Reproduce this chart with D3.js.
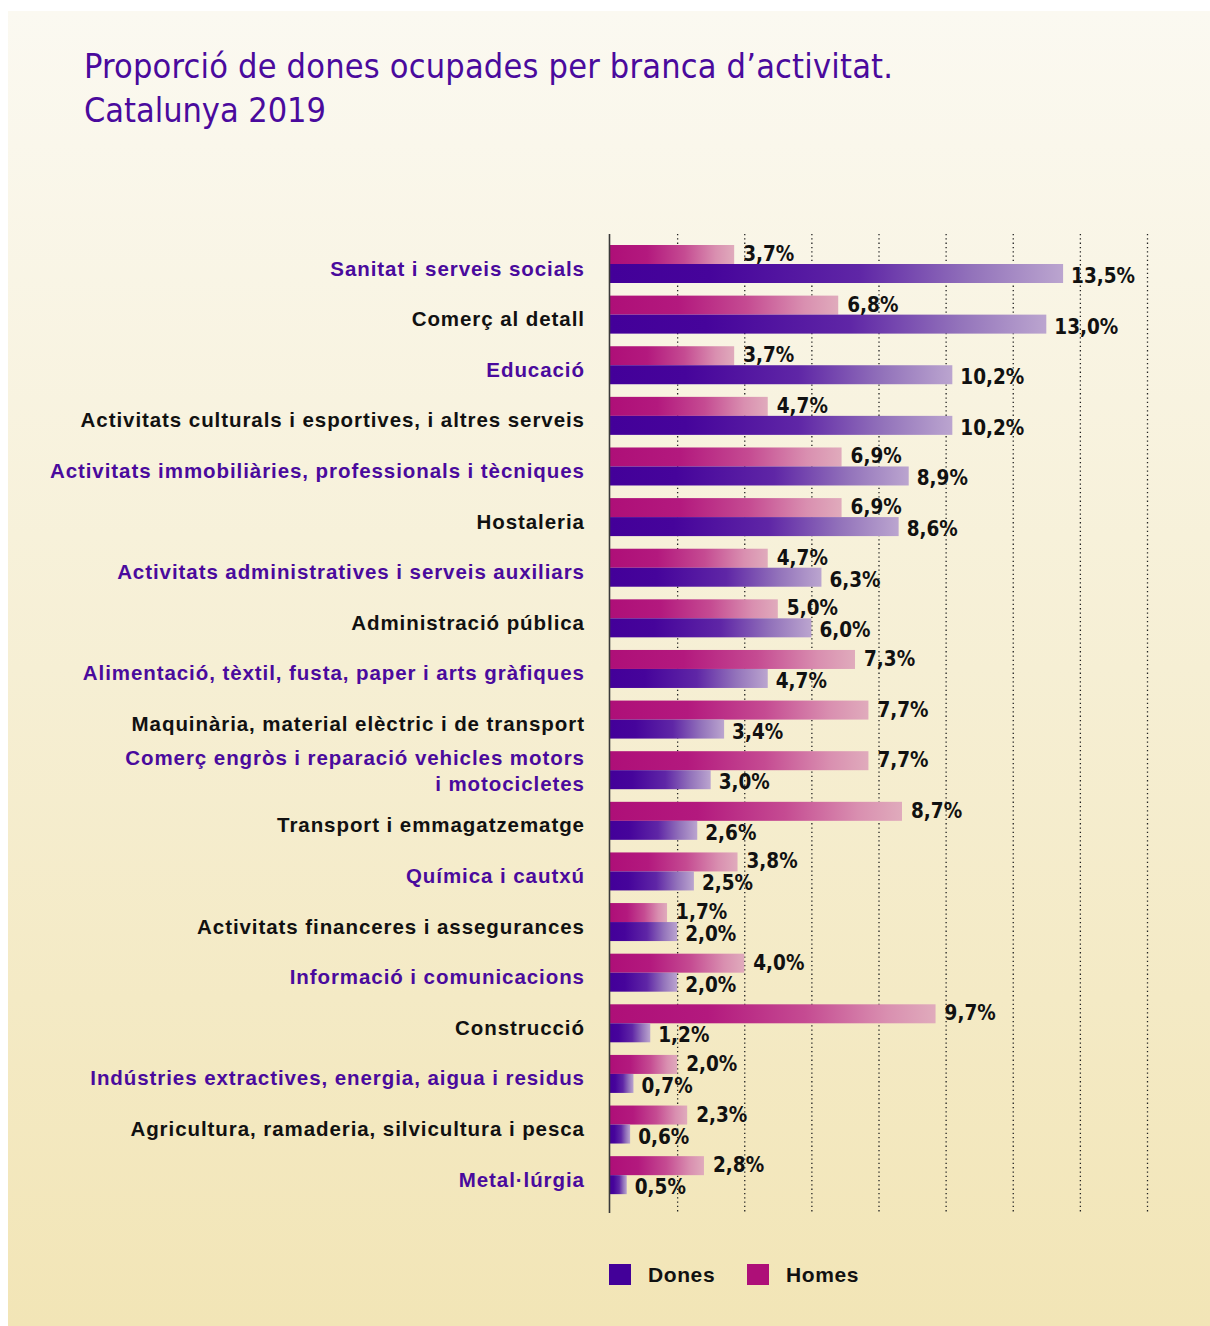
<!DOCTYPE html>
<html>
<head>
<meta charset="utf-8">
<script src="https://cdn.jsdelivr.net/npm/d3@7"></script>
<style>
html,body{margin:0;padding:0;background:#fff;overflow:hidden;}
svg{display:block;}
</style>
</head>
<body>
<script>
const categories = [
  ["Sanitat i serveis socials"],
  ["Comerç al detall"],
  ["Educació"],
  ["Activitats culturals i esportives, i altres serveis"],
  ["Activitats immobiliàries, professionals i tècniques"],
  ["Hostaleria"],
  ["Activitats administratives i serveis auxiliars"],
  ["Administració pública"],
  ["Alimentació, tèxtil, fusta, paper i arts gràfiques"],
  ["Maquinària, material elèctric i de transport"],
  ["Comerç engròs i reparació vehicles motors", "i motocicletes"],
  ["Transport i emmagatzematge"],
  ["Química i cautxú"],
  ["Activitats financeres i assegurances"],
  ["Informació i comunicacions"],
  ["Construcció"],
  ["Indústries extractives, energia, aigua i residus"],
  ["Agricultura, ramaderia, silvicultura i pesca"],
  ["Metal·lúrgia"]
];
const dones = [13.5, 13.0, 10.2, 10.2, 8.9, 8.6, 6.3, 6.0, 4.7, 3.4, 3.0, 2.6, 2.5, 2.0, 2.0, 1.2, 0.7, 0.6, 0.5];
const homes = [3.7, 6.8, 3.7, 4.7, 6.9, 6.9, 4.7, 5.0, 7.3, 7.7, 7.7, 8.7, 3.8, 1.7, 4.0, 9.7, 2.0, 2.3, 2.8];
const gridTicks = [2, 4, 6, 8, 10, 12, 14, 16];
const seriesNames = ["Dones", "Homes"];
const titleLines = ["Proporció de dones ocupades per branca d’activitat.", "Catalunya 2019"];

const W = 1210, H = 1326;
const svg = d3.select("body").append("svg").attr("width", W).attr("height", H);
const defs = svg.append("defs");

const bg = defs.append("linearGradient").attr("id", "bg").attr("x1", 0).attr("y1", 0).attr("x2", 0).attr("y2", 1);
bg.append("stop").attr("offset", 0).attr("stop-color", "#fbf9f1");
bg.append("stop").attr("offset", 0.5).attr("stop-color", "#f6efd4");
bg.append("stop").attr("offset", 1).attr("stop-color", "#f2e5b6");

const gD = defs.append("linearGradient").attr("id", "gD");
[[0, "#430099"], [0.22, "#46049b"], [0.55, "#5f26a6"], [0.8, "#9373bb"], [1, "#bba5cf"]]
  .forEach(s => gD.append("stop").attr("offset", s[0]).attr("stop-color", s[1]));
const gH = defs.append("linearGradient").attr("id", "gH");
[[0, "#ae0f78"], [0.3, "#b3197e"], [0.6, "#c54b92"], [0.85, "#d98fb0"], [1, "#e0abbc"]]
  .forEach(s => gH.append("stop").attr("offset", s[0]).attr("stop-color", s[1]));

svg.append("rect").attr("x", 8).attr("y", 11).attr("width", W - 8).attr("height", H - 11).attr("fill", "url(#bg)");

// Title
const condensed = "'Liberation Sans Narrow','DejaVu Sans Condensed','Roboto Condensed',sans-serif";
const title = svg.append("g");
const tW = [809, 242];
titleLines.forEach((t, i) => {
  title.append("text")
    .attr("x", 84).attr("y", 78 + i * 44)
    .attr("font-family", condensed).attr("font-size", 34)
    .attr("font-stretch", "condensed")
    .attr("fill", "#4a0a9d")
    .attr("textLength", tW[i]).attr("lengthAdjust", "spacing")
    .text(t);
});

// Scales
const x = d3.scaleLinear().domain([0, 16]).range([610, 1147]);
const y = d3.scaleBand().domain(d3.range(categories.length)).range([238, 238 + 50.62 * categories.length]);
const barH = 19, top0 = 7;

const gridTop = 234, gridBot = 1213;
const gridAxis = d3.axisTop(x).tickValues(gridTicks).tickSize(-(gridBot - gridTop)).tickFormat("");
const gg = svg.append("g").attr("transform", `translate(0,${gridTop})`).call(gridAxis);
gg.select(".domain").remove();
gg.selectAll(".tick line").attr("stroke", "#222").attr("stroke-width", 1.3).attr("stroke-dasharray", "1.3,3");

// Bars
const rows = svg.append("g");
categories.forEach((c, i) => {
  const yy = y(i) + top0;
  rows.append("rect").attr("x", x(0)).attr("y", yy).attr("width", x(homes[i]) - x(0)).attr("height", barH).attr("fill", "url(#gH)");
  rows.append("rect").attr("x", x(0)).attr("y", yy + barH).attr("width", x(dones[i]) - x(0)).attr("height", barH).attr("fill", "url(#gD)");
});

svg.append("line").attr("x1", 609.5).attr("x2", 609.5).attr("y1", gridTop).attr("y2", gridBot)
  .attr("stroke", "#3a3a3a").attr("stroke-width", 1.6);

// Value labels
const fmt = v => d3.format(".1f")(v).replace(".", ",") + "%";
const vl = svg.append("g").attr("font-family", condensed).attr("font-stretch", "condensed")
  .attr("font-weight", "bold").attr("font-size", 20.5).attr("fill", "#111");
categories.forEach((c, i) => {
  const yy = y(i) + top0;
  vl.append("text").attr("x", x(homes[i]) + 9).attr("y", yy + barH - 3).text(fmt(homes[i]));
  vl.append("text").attr("x", x(dones[i]) + 8).attr("y", yy + 2 * barH).text(fmt(dones[i]));
});

// Category labels
const cl = svg.append("g").attr("font-family", "'Liberation Sans',Arial,sans-serif")
  .attr("font-weight", "bold").attr("font-size", 20.5).attr("text-anchor", "end");
categories.forEach((c, i) => {
  const mid = y(i) + top0 + barH;
  const col = i % 2 === 0 ? "#4a0a9d" : "#111";
  if (c.length === 1) {
    cl.append("text").attr("x", 584).attr("y", mid + 11.5).attr("fill", col).text(c[0]);
  } else {
    c.forEach((line, k) => {
      cl.append("text").attr("x", 584).attr("y", mid - 5 + k * 26).attr("fill", col).text(line);
    });
  }
});
// match the reference's wide tracking: widest label spans ~535px
{
  const ref = cl.selectAll("text").filter((d, k, n) => n[k].textContent.startsWith("Activitats immobili")).node();
  const w = ref.getComputedTextLength();
  const ls = Math.max(0, (535 - w) / (ref.textContent.length));
  cl.attr("letter-spacing", ls);
  cl.selectAll("text").attr("dx", ls);
}

// Legend
const leg = svg.append("g").attr("font-family", "'Liberation Sans',Arial,sans-serif")
  .attr("font-weight", "bold").attr("font-size", 21).attr("fill", "#111").attr("letter-spacing", 0.6);
const legCols = ["#430099", "#ae0f78"];
const legX = [609, 747];
seriesNames.forEach((n, i) => {
  leg.append("rect").attr("x", legX[i]).attr("y", 1264).attr("width", 22).attr("height", 21).attr("fill", legCols[i]);
  leg.append("text").attr("x", legX[i] + 39).attr("y", 1282).text(n);
});
</script>
</body>
</html>
